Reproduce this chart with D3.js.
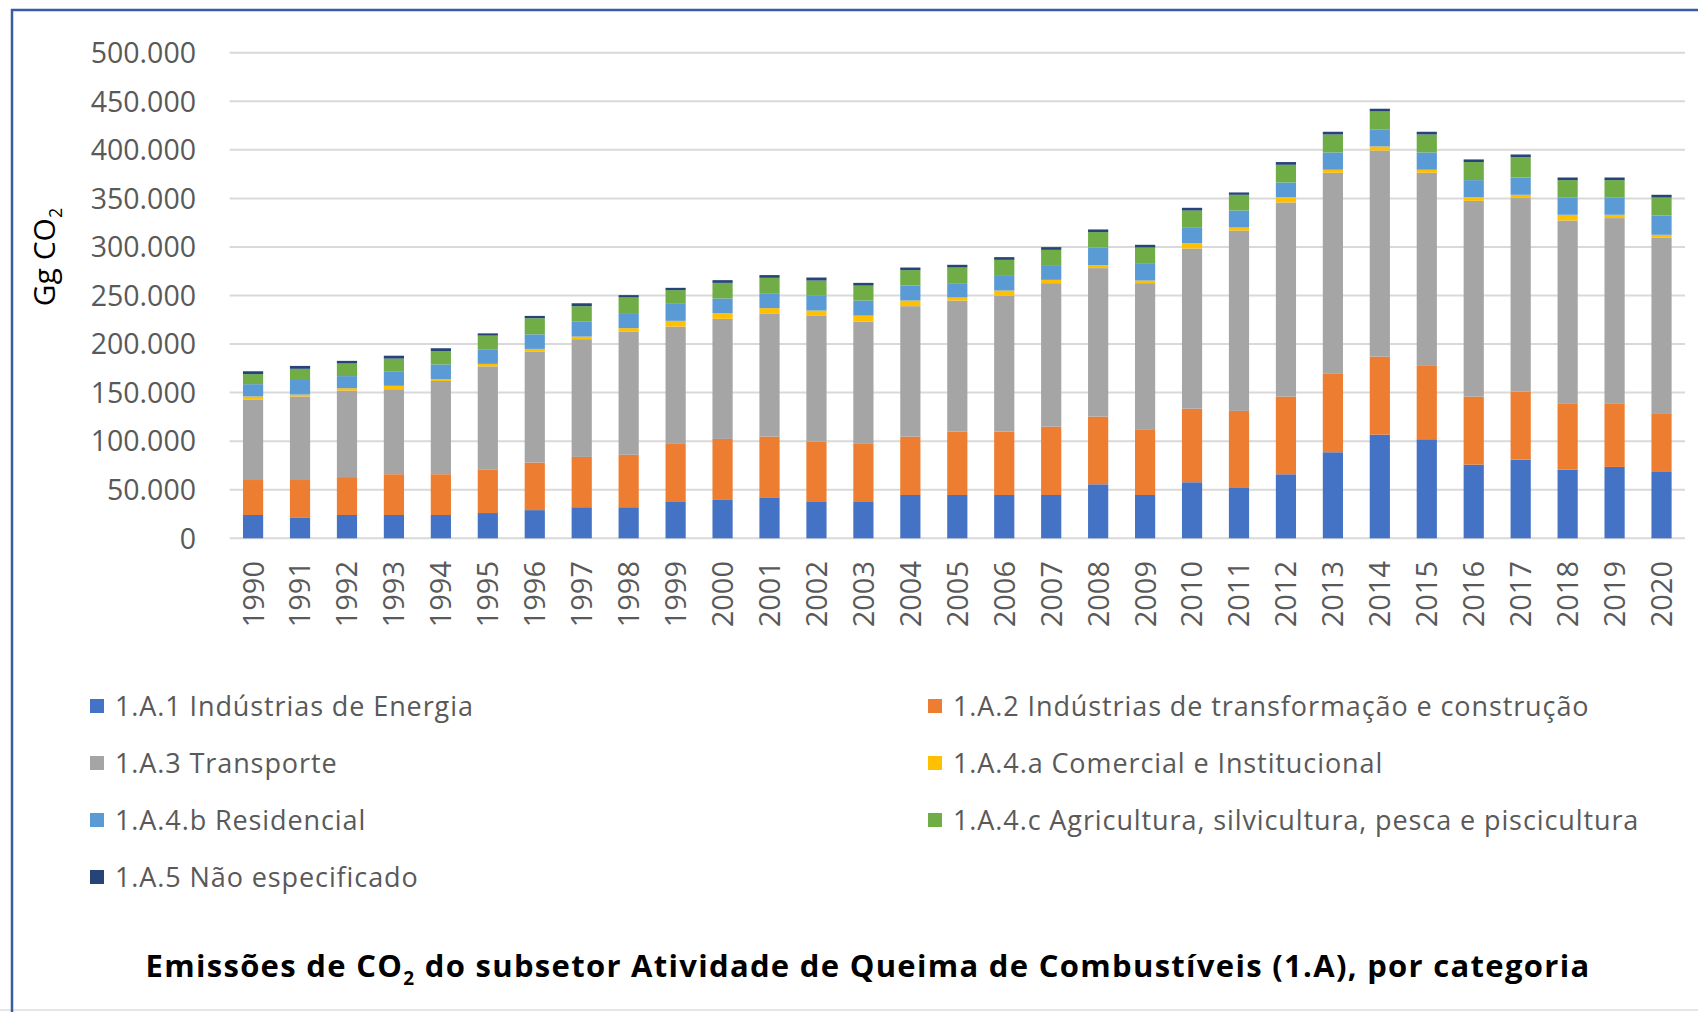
<!DOCTYPE html>
<meta charset="utf-8">
<html>
<head>
    <title>Emissões de CO2 - Queima de Combustíveis</title>
    <script src="https://cdn.jsdelivr.net/npm/d3@7"></script>
</head>
<style>
    body{
        margin: 0;
        background: #fff;
    }
    svg{
        display: block;
    }
    .tick-label, .year-label, .legend-label{
        font-family: "Open Sans", sans-serif;
        fill: #595959;
    }
    .axis-title{
        font-family: "Open Sans", sans-serif;
        fill: #000;
    }
    .title{
        font-family: "Open Sans", sans-serif;
        font-weight: bold;
        fill: #000;
    }
</style>
<body>
<svg id="chart" width="1698" height="1012"></svg>

<script>
    // ***************************************
    //        data (Gg CO2)
    // ***************************************
    const years = ["1990","1991","1992","1993","1994","1995","1996","1997","1998","1999",
        "2000","2001","2002","2003","2004","2005","2006","2007","2008","2009",
        "2010","2011","2012","2013","2014","2015","2016","2017","2018","2019","2020"];

    const categories = [
        "1.A.1 Indústrias de Energia",
        "1.A.2 Indústrias de transformação e construção",
        "1.A.3 Transporte",
        "1.A.4.a Comercial e Institucional",
        "1.A.4.b Residencial",
        "1.A.4.c Agricultura, silvicultura, pesca e piscicultura",
        "1.A.5 Não especificado"
    ];

    const energia = [24000,21000,24000,24000,24000,26000,29000,32000,32000,37400,
        39500,42200,37400,37400,44600,44600,44600,44600,55600,44600,
        57700,52500,65900,88600,106700,102000,75800,81000,70700,73500,68300];
    const transformacao = [36000,39000,39000,42000,42000,45000,49000,51800,54000,59800,
        62800,62500,62100,59800,60100,65200,65200,70400,69700,67700,
        75800,78700,80000,80700,80400,75500,70100,70000,67700,64900,60500];
    const transporte = [83000,86000,89000,87500,96000,106000,114000,121200,127000,120800,
        123700,126400,129500,126000,134300,135000,139800,147700,152900,150400,
        164900,185700,199900,207100,212200,198900,201600,199300,188800,191300,180600];
    const comercial = [3000,2000,2500,3500,2000,2600,3000,2700,3400,5900,
        5800,5900,5500,6100,5800,3100,5500,3400,3100,2700,
        5500,3100,5500,3100,4200,3100,3800,3400,5900,3400,3100];
    const residencial = [12700,16000,12500,15000,15000,15100,15000,15300,15500,18200,
        15100,15400,15800,15500,15400,14800,15900,15200,18100,17900,
        15800,17500,15100,17800,17200,17800,17500,17800,17800,17800,19900];
    const agricultura = [10300,10500,13000,13000,13700,14000,16600,16000,16100,13400,
        16100,15800,15100,15400,15900,16100,15700,15700,15900,16100,
        17800,16200,18200,18500,18800,18500,18600,21000,17900,17900,18500];
    const naoEspecificado = [3000,3000,2700,3000,3000,2300,2400,3000,2400,2400,
        2800,2800,3100,2800,2700,2800,2800,2800,2700,2800,
        2800,2400,2800,2800,2800,2800,2700,2700,2700,2700,2800];

    const yTicks = [0,50000,100000,150000,200000,250000,300000,350000,400000,450000,500000];

    const colors = ["#4472C4","#ED7D31","#A5A5A5","#FFC000","#5B9BD5","#70AD47","#264478"];

    const seriesValues = [energia, transformacao, transporte, comercial, residencial, agricultura, naoEspecificado];

    // table for d3.stack
    const table = years.map((yr, i) => {
        const row = {year: yr};
        categories.forEach((c, k) => row[c] = seriesValues[k][i]);
        return row;
    });

    const svg = d3.select("#chart");
    const W = 1698, H = 1012;

    // ***************************************
    //        frame
    // ***************************************
    svg.append("line")
        .attr("x1", 0).attr("x2", W)
        .attr("y1", 1010).attr("y2", 1010)
        .attr("stroke", "#e6e6e6").attr("stroke-width", 2);
    svg.append("path")
        .attr("d", `M12,${H} L12,10 L${W},10`)
        .attr("fill", "none")
        .attr("stroke", "#3A5BA6")
        .attr("stroke-width", 2.5);

    // ***************************************
    //        scales
    // ***************************************
    const x = d3.scaleBand()
        .domain(years)
        .range([229.6, 1685])
        .paddingInner(0.57)
        .paddingOuter(0.285);

    const y = d3.scaleLinear()
        .domain([0, 500000])
        .range([538.3, 52.7]);

    const ptBR = d3.formatLocale({decimal: ",", thousands: ".", grouping: [3], currency: ["R$", ""]});
    const fmt = ptBR.format(",d");

    // gridlines
    svg.append("g")
        .selectAll("line")
        .data(yTicks)
        .join("line")
        .attr("x1", 229.6).attr("x2", 1685)
        .attr("y1", d => y(d)).attr("y2", d => y(d))
        .attr("stroke", "#d9d9d9")
        .attr("stroke-width", 2);

    // y tick labels
    svg.append("g")
        .selectAll("text")
        .data(yTicks)
        .join("text")
        .attr("class", "tick-label")
        .attr("x", 196)
        .attr("y", d => y(d))
        .attr("dy", "0.36em")
        .attr("text-anchor", "end")
        .style("font-size", "28.5px")
        .text(d => fmt(d));

    // y axis title
    const yTitle = svg.append("text")
        .attr("class", "axis-title")
        .attr("transform", "translate(55,257) rotate(-90)")
        .attr("text-anchor", "middle")
        .style("font-size", "30px");
    yTitle.append("tspan").text("Gg CO");
    yTitle.append("tspan").attr("dy", 7).style("font-size", "18px").text("2");

    // ***************************************
    //        stacked bars
    // ***************************************
    const stack = d3.stack().keys(categories);
    const layers = stack(table);

    svg.append("g")
        .selectAll("g")
        .data(layers)
        .join("g")
        .attr("fill", (d, i) => colors[i])
        .selectAll("rect")
        .data(d => d)
        .join("rect")
        .attr("x", d => x(d.data.year))
        .attr("width", x.bandwidth())
        .attr("y", d => y(d[1]))
        .attr("height", d => y(d[0]) - y(d[1]));

    // year labels
    svg.append("g")
        .selectAll("text")
        .data(years)
        .join("text")
        .attr("class", "year-label")
        .attr("transform", d => `translate(${x(d) + x.bandwidth() / 2},561) rotate(-90)`)
        .attr("dy", "0.36em")
        .attr("text-anchor", "end")
        .style("font-size", "29px")
        .text(d => d);

    // ***************************************
    //        legend
    // ***************************************
    const legendPos = [
        [90, 706], [928, 706],
        [90, 763], [928, 763],
        [90, 820], [928, 820],
        [90, 877]
    ];
    const legend = svg.append("g")
        .selectAll("g")
        .data(categories)
        .join("g")
        .attr("transform", (d, i) => `translate(${legendPos[i][0]},${legendPos[i][1]})`);
    legend.append("rect")
        .attr("x", 0).attr("y", -7)
        .attr("width", 14).attr("height", 14)
        .attr("fill", (d, i) => colors[i]);
    legend.append("text")
        .attr("class", "legend-label")
        .attr("x", 25)
        .attr("dy", "0.36em")
        .style("font-size", "27px")
        .style("letter-spacing", "0.9px")
        .text(d => d);

    // ***************************************
    //        title
    // ***************************************
    const title = svg.append("text")
        .attr("class", "title")
        .attr("x", 868)
        .attr("y", 977)
        .attr("text-anchor", "middle")
        .style("font-size", "31px")
        .style("letter-spacing", "1.3px");
    title.append("tspan").text("Emissões de CO");
    title.append("tspan").attr("dy", 8).style("font-size", "19px").text("2");
    title.append("tspan").attr("dy", -8).text(" do subsetor Atividade de Queima de Combustíveis (1.A), por categoria");
</script>
</body>
</html>
